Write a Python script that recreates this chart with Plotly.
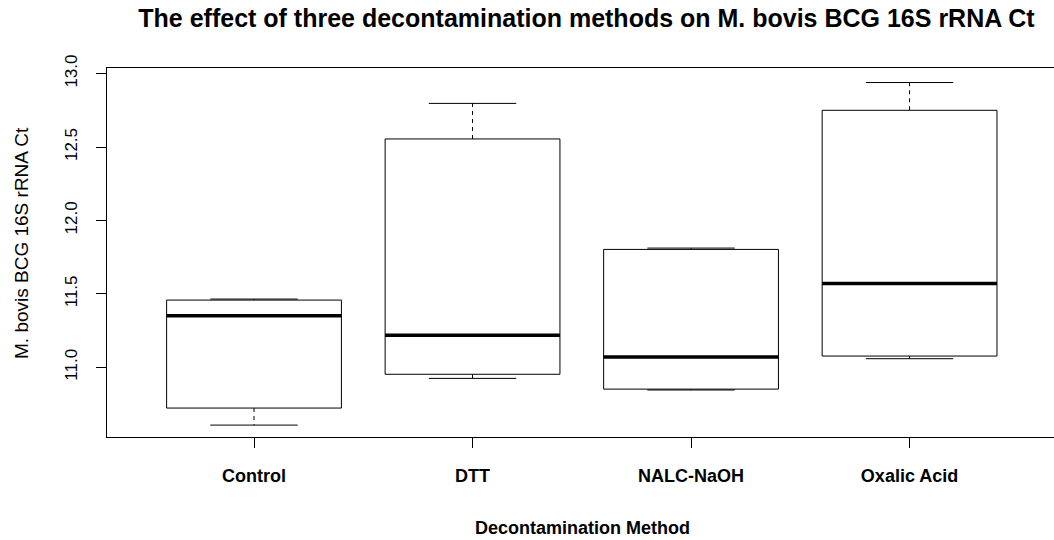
import plotly.graph_objects as go

# Ct summary statistics per decontamination method
methods = ["Control", "DTT", "NALC-NaOH", "Oxalic Acid"]
lower_whisker = [10.607, 10.925, 10.846, 11.059]
q1 = [10.723, 10.953, 10.852, 11.077]
median = [11.351, 11.218, 11.070, 11.571]
q3 = [11.458, 12.555, 11.803, 12.750]
upper_whisker = [11.465, 12.797, 11.812, 12.939]

y_ticks = [11.0, 11.5, 12.0, 12.5, 13.0]
y_tick_labels = ["11.0", "11.5", "12.0", "12.5", "13.0"]

FONT = "Liberation Sans, Arial, sans-serif"
BOX_HALF = 0.4      # boxwex 0.8
CAP_HALF = 0.2      # staple half-width
INK = "black"

fig = go.Figure()

for i, name in enumerate(methods):
    x = i + 1
    # dashed whiskers
    fig.add_trace(go.Scatter(
        x=[x, x, None, x, x],
        y=[q3[i], upper_whisker[i], None, q1[i], lower_whisker[i]],
        mode="lines", line=dict(color=INK, width=1, dash="4px,4px"),
        hoverinfo="skip", showlegend=False))
    # staples
    fig.add_trace(go.Scatter(
        x=[x - CAP_HALF, x + CAP_HALF, None, x - CAP_HALF, x + CAP_HALF],
        y=[upper_whisker[i], upper_whisker[i], None, lower_whisker[i], lower_whisker[i]],
        mode="lines", line=dict(color=INK, width=1),
        hoverinfo="skip", showlegend=False))
    # box body
    fig.add_trace(go.Scatter(
        x=[x - BOX_HALF, x + BOX_HALF, x + BOX_HALF, x - BOX_HALF, x - BOX_HALF],
        y=[q1[i], q1[i], q3[i], q3[i], q1[i]],
        mode="lines", fill="toself", fillcolor="white",
        line=dict(color=INK, width=1),
        name=name, showlegend=False))
    # median bar
    fig.add_trace(go.Scatter(
        x=[x - BOX_HALF, x + BOX_HALF], y=[median[i], median[i]],
        mode="lines", line=dict(color=INK, width=3.5),
        hoverinfo="skip", showlegend=False))

W, H = 1054, 540
L, R, T, B = 107, 0, 68, 103
plot_w = W - L - R
plot_h = H - T - B

fig.update_layout(
    width=W, height=H,
    margin=dict(l=L, r=R, t=T, b=B),
    paper_bgcolor="white", plot_bgcolor="white",
    font=dict(family=FONT, color="black"),
    title=dict(
        text="<b>The effect of three decontamination methods on M. bovis BCG 16S rRNA Ct</b>",
        x=586.5 / W, xref="container", xanchor="center",
        y=1 - 18 / H, yref="container", yanchor="middle",
        font=dict(family=FONT, size=25, color="black")),
    xaxis=dict(
        range=[0.3272, 4.661],
        tickmode="array", tickvals=[1, 2, 3, 4],
        ticktext=["<b>%s</b>" % m for m in methods],
        tickfont=dict(family=FONT, size=18, color="black"),
        ticks="outside", ticklen=10, tickcolor=INK, tickwidth=1,
        ticklabelstandoff=12,
        showline=True, linecolor=INK, linewidth=1, mirror=True,
        showgrid=False, zeroline=False, fixedrange=True),
    yaxis=dict(
        range=[10.526, 13.038],
        tickmode="array", tickvals=y_ticks, ticktext=y_tick_labels,
        tickangle=-90,
        tickfont=dict(family=FONT, size=17, color="black"),
        ticks="outside", ticklen=10, tickcolor=INK, tickwidth=1,
        ticklabelstandoff=12,
        showline=True, linecolor=INK, linewidth=1, mirror=False,
        showgrid=False, zeroline=False, fixedrange=True),
    annotations=[
        dict(text="M. bovis BCG 16S rRNA Ct", textangle=-90,
             xref="paper", yref="paper",
             x=(21 - L) / plot_w, y=(H - B - 243) / plot_h,
             xanchor="center", yanchor="middle", showarrow=False,
             font=dict(family=FONT, size=19, color="black")),
        dict(text="<b>Decontamination Method</b>",
             xref="paper", yref="paper",
             x=(582 - L) / plot_w, y=(H - B - 528) / plot_h,
             xanchor="center", yanchor="middle", showarrow=False,
             font=dict(family=FONT, size=18, color="black")),
    ],
)

fig.write_html("out.html")
